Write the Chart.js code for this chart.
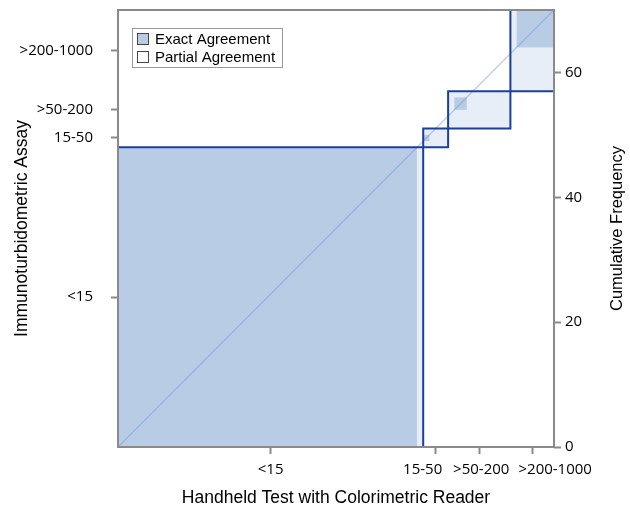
<!DOCTYPE html>
<html>
<head>
<meta charset="utf-8">
<script src="https://cdn.jsdelivr.net/npm/chart.js@4"></script>
<style>
  html, body { margin: 0; padding: 0; background: #fff; }
  #wrap { width: 630px; height: 509px; position: relative; }
</style>
</head>
<body>
<div id="wrap"><canvas id="agreeChart"></canvas></div>
<script>
// Agreement plot data
const levels        = ['<15', '15-50', '>50-200', '>200-1000'];
const rowTotals     = [48, 3, 6, 13];   // Immunoturbidometric Assay (vertical)
const colTotals     = [49, 4, 10, 7];   // Handheld Test (horizontal)
const exactCounts   = [48, 1, 2, 6];
const exactOffsetX  = [0, 0, 1, 1];
const exactOffsetY  = [0, 1, 3, 7];
const freqTicks     = [0, 20, 40, 60];

const N = colTotals.reduce((a, b) => a + b, 0);

const cumStarts = arr => arr.map((_, i) => arr.slice(0, i).reduce((a, b) => a + b, 0));
const colStart = cumStarts(colTotals);
const rowStart = cumStarts(rowTotals);
const colCenters = colStart.map((s, i) => s + colTotals[i] / 2);
const rowCenters = rowStart.map((s, i) => s + rowTotals[i] / 2);

const COLOR_EXACT   = '#b8cce6';
const COLOR_PARTIAL = '#e7eef8';
const COLOR_LINE    = '#1d3f9c';
const COLOR_FRAME   = '#8a8a8a';

// bottom labels are nudged sideways so they don't collide (like the original)
const xLabelNudge = [0, -13, 2, 23];

// block outlines as closed polylines
const outlineSets = levels.map((lvl, i) => {
    const x0 = colStart[i], x1 = x0 + colTotals[i];
    const y0 = rowStart[i], y1 = y0 + rowTotals[i];
    return {
        label: 'block ' + lvl,
        data: [{x: x0, y: y0}, {x: x1, y: y0}, {x: x1, y: y1}, {x: x0, y: y1}, {x: x0, y: y0}],
        showLine: true,
        borderColor: COLOR_LINE,
        borderWidth: 2,
        pointRadius: 0,
        fill: false
    };
});

const diagonalSet = {
    label: 'diagonal',
    data: [{x: 0, y: 0}, {x: N, y: N}],
    showLine: true,
    borderColor: 'rgba(120, 150, 210, 0.45)',
    borderWidth: 1.5,
    pointRadius: 0,
    fill: false
};

/* ── fills, frame, legend, labels ──────────────────────────────── */

const agreementPlugin = {
    id: 'agreement',
    beforeDatasetsDraw(chart) {
        const {ctx, scales: {x, y}} = chart;
        const rect = (ax, ay, bx, by, color) => {
            const px0 = x.getPixelForValue(ax), px1 = x.getPixelForValue(bx);
            const py0 = y.getPixelForValue(ay), py1 = y.getPixelForValue(by);
            ctx.fillStyle = color;
            ctx.fillRect(px0, py1, px1 - px0, py0 - py1);
        };
        ctx.save();
        levels.forEach((_, i) => {
            // partial agreement: whole block
            rect(colStart[i], rowStart[i], colStart[i] + colTotals[i], rowStart[i] + rowTotals[i], COLOR_PARTIAL);
            // exact agreement square
            const ex = colStart[i] + exactOffsetX[i];
            const ey = rowStart[i] + exactOffsetY[i];
            rect(ex, ey, ex + exactCounts[i], ey + exactCounts[i], COLOR_EXACT);
        });
        ctx.restore();
    },
    afterDraw(chart) {
        const {ctx, chartArea: a, scales: {x}} = chart;
        ctx.save();
        // frame
        ctx.strokeStyle = COLOR_FRAME;
        ctx.lineWidth = 2;
        ctx.strokeRect(a.left, a.top, a.right - a.left, a.bottom - a.top);

        // bottom tick labels
        ctx.fillStyle = '#000';
        ctx.font = '15px "Open Sans", sans-serif';
        ctx.textAlign = 'center';
        ctx.textBaseline = 'middle';
        levels.forEach((lvl, i) => {
            ctx.fillText(lvl, x.getPixelForValue(colCenters[i]) + xLabelNudge[i], a.bottom + 23);
        });

        // legend
        const lx = 132, ly = 28;
        ctx.fillStyle = '#fff';
        ctx.fillRect(lx, ly, 150, 39);
        ctx.strokeStyle = '#999';
        ctx.lineWidth = 1;
        ctx.strokeRect(lx + 0.5, ly + 0.5, 150, 39);
        ctx.font = '15px "Liberation Sans", Arial, sans-serif';
        ctx.textAlign = 'left';
        const items = [['Exact Agreement', COLOR_EXACT], ['Partial Agreement', '#fff']];
        items.forEach(([txt, col], k) => {
            const cy = ly + 11 + k * 18;
            ctx.fillStyle = col;
            ctx.fillRect(lx + 5.5, cy - 5.5, 11, 11);
            ctx.strokeStyle = '#444';
            ctx.strokeRect(lx + 5.5, cy - 5.5, 11, 11);
            ctx.fillStyle = '#000';
            ctx.fillText(txt, lx + 23, cy + 1);
        });

        // right axis title, reading bottom-to-top
        ctx.translate(617, (a.top + a.bottom) / 2);
        ctx.rotate(-Math.PI / 2);
        ctx.textAlign = 'center';
        ctx.font = '16.5px "Liberation Sans", Arial, sans-serif';
        ctx.fillText('Cumulative Frequency', 0, 0);
        ctx.restore();
    }
};

const tickFont = { family: '"Open Sans", sans-serif', size: 15 };
const titleFont = { family: '"Liberation Sans", Arial, sans-serif', size: 17.5 };
const tickGrid = { drawOnChartArea: false, tickLength: 7, tickColor: COLOR_FRAME, tickWidth: 2 };
const noEdgePad = s => { s.paddingTop = 0; s.paddingBottom = 0; s.paddingLeft = 0; s.paddingRight = 0; };

new Chart(document.getElementById('agreeChart'), {
    type: 'scatter',
    data: { datasets: [...outlineSets, diagonalSet] },
    options: {
        responsive: true,
        maintainAspectRatio: false,
        animation: false,
        layout: { padding: { top: 10, left: 0, right: 0, bottom: 0 } },
        plugins: { legend: { display: false }, tooltip: { enabled: false } },
        scales: {
            x: {
                type: 'linear', position: 'bottom', min: 0, max: N,
                afterBuildTicks: s => { s.ticks = colCenters.map(v => ({ value: v })); },
                afterFit: s => { s.height = 62; noEdgePad(s); },
                ticks: { display: false, autoSkip: false },
                grid: tickGrid,
                border: { display: false },
                title: { display: true, text: 'Handheld Test with Colorimetric Reader', color: '#000',
                         font: titleFont, padding: { top: 4, bottom: 0 } }
            },
            y: {
                type: 'linear', position: 'left', min: 0, max: N,
                afterBuildTicks: s => { s.ticks = rowCenters.map(v => ({ value: v })); },
                afterFit: s => { s.width = 118; noEdgePad(s); },
                ticks: { autoSkip: false, padding: 18, color: '#000', font: tickFont,
                         callback: (v, i) => levels[i] },
                grid: tickGrid,
                border: { display: false },
                title: { display: true, text: 'Immunoturbidometric Assay', color: '#000',
                         font: titleFont, padding: { top: 12, bottom: 0 } }
            },
            y2: {
                type: 'linear', position: 'right', min: 0, max: N,
                afterBuildTicks: s => { s.ticks = freqTicks.map(v => ({ value: v })); },
                afterFit: s => { s.width = 76; noEdgePad(s); },
                ticks: { autoSkip: false, padding: 4, color: '#000', font: tickFont },
                grid: tickGrid,
                border: { display: false }
            }
        }
    },
    plugins: [agreementPlugin]
});
</script>
</body>
</html>
